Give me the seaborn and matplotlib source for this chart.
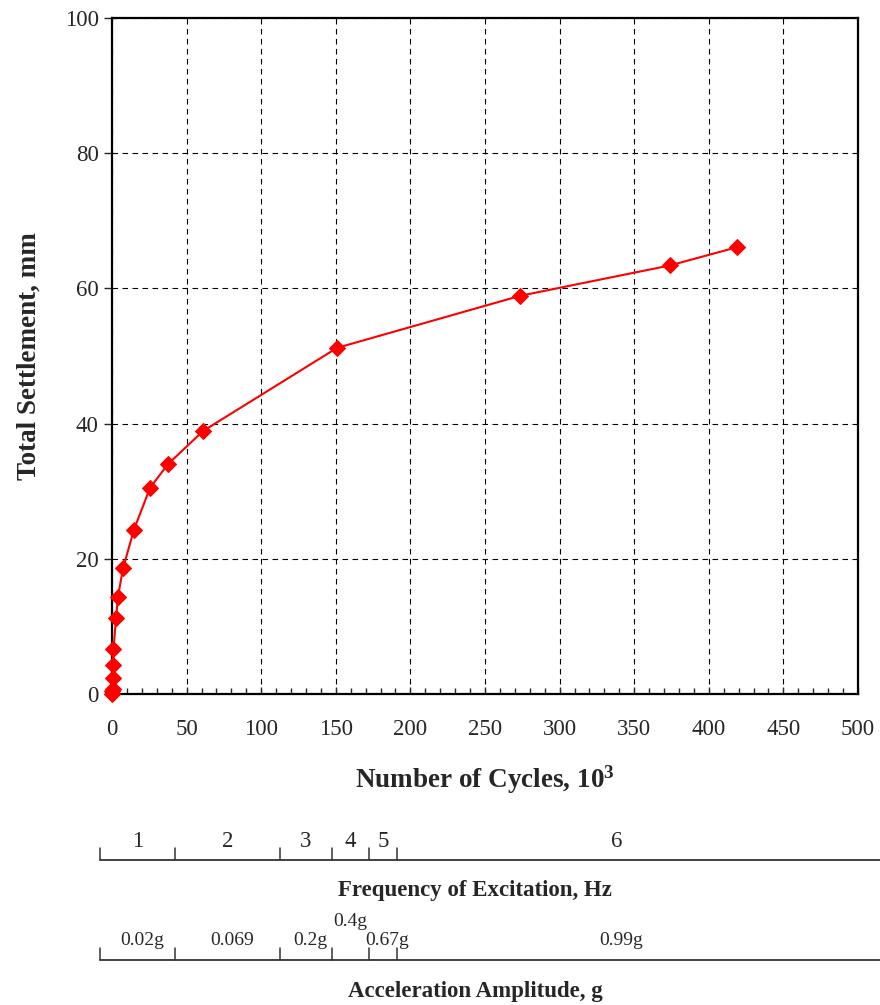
import matplotlib
matplotlib.use("Agg")
import matplotlib.pyplot as plt
from matplotlib.ticker import MultipleLocator
import pandas as pd
import seaborn as sns

# settlement vs cycles (thousands of cycles, mm)
cycles = [0, 0.2, 0.4, 0.6, 0.8, 1.0, 2.7, 4.0, 7.4, 14.7, 25.5, 37.5, 61.0, 150.8, 273.5, 374.0, 419.0]
settlement = [0, 0.4, 0.8, 2.3, 4.3, 6.6, 11.2, 14.4, 18.6, 24.3, 30.5, 34.0, 38.9, 51.2, 58.9, 63.4, 66.1]

# loading stages, boundaries in thousand cycles
stage_edges = [-8.0, 42.2, 112.6, 147.5, 172.3, 191.0, 486.0]
freq_labels = ["1", "2", "3", "4", "5", "6"]
accel_labels = ["0.02g", "0.069", "0.2g", "0.4g", "0.67g", "0.99g"]

df = pd.DataFrame({"cycles": cycles, "settlement": settlement})

sns.set_style("white")
plt.rcParams["font.family"] = ["Liberation Serif", "DejaVu Serif"]
plt.rcParams["mathtext.fontset"] = "custom"
plt.rcParams["mathtext.rm"] = "Liberation Serif"
plt.rcParams["mathtext.bf"] = "Liberation Serif:bold"

fig = plt.figure(figsize=(8.8, 10.05), dpi=100)
W, H = 880, 1005
ax = fig.add_axes([112 / W, 1 - 694 / H, (858 - 112) / W, (694 - 18) / H])

sns.lineplot(data=df, x="cycles", y="settlement", ax=ax, color="#ff0000",
             marker="D", markersize=8, markeredgecolor="#ff0000",
             linewidth=1.5, estimator=None, sort=False, clip_on=False, zorder=5)

ax.set_xlim(0, 500)
ax.set_ylim(0, 100)
ax.xaxis.set_major_locator(MultipleLocator(50))
ax.xaxis.set_minor_locator(MultipleLocator(10))
ax.yaxis.set_major_locator(MultipleLocator(20))
ax.grid(True, which="major", color="black", linestyle=(0, (5, 4)), linewidth=0.8)
for s in ax.spines.values():
    s.set_color("black")
    s.set_linewidth(1.6)
ax.tick_params(axis="y", which="major", direction="out", length=6, width=1, labelsize=16.5, left=True)
ax.tick_params(axis="x", which="major", direction="in", length=5, width=1, labelsize=16.5, bottom=True, pad=18)
ax.tick_params(axis="x", which="minor", direction="in", length=4, width=1, bottom=True)

ax.set_xlabel(r"Number of Cycles, $\mathbf{10^3}$", fontsize=19.5, fontweight="bold", labelpad=17)
ax.set_ylabel("Total Settlement, mm", fontsize=19.5, fontweight="bold", labelpad=17)

# stage scales below the chart, x in the same units as the main axis
sx = fig.add_axes([0, 0, 1, 1])
sx.set_xlim((0 - 112) / 1.492, (W - 112) / 1.492)
sx.set_ylim(H, 0)
sx.axis("off")

def stage_bar(y, labels, label_y, raised=None, fs=16.5, dx=0.0):
    sx.plot([stage_edges[0], sx.get_xlim()[1]], [y, y], color="#333333", lw=1.3)
    for e in stage_edges[:-1]:
        sx.plot([e, e], [y, y - 12], color="#333333", lw=1.1)
    for i, lab in enumerate(labels):
        cx = (stage_edges[i] + stage_edges[i + 1]) / 2 + dx
        if raised == i:
            sx.text(cx - 3, label_y - 19, lab, ha="center", va="center", fontsize=fs)
        else:
            sx.text(cx, label_y, lab, ha="center", va="center", fontsize=fs)

title_x = (stage_edges[0] + sx.get_xlim()[1]) / 2 - 10
stage_bar(860, freq_labels, 841)
sx.text(title_x, 890, "Frequency of Excitation, Hz", ha="center", va="center",
        fontsize=16.5, fontweight="bold")
stage_bar(960, accel_labels, 940, raised=3, fs=14, dx=3)
sx.text(title_x, 991, "Acceleration Amplitude, g", ha="center", va="center",
        fontsize=16.5, fontweight="bold")

plt.savefig("out.png", dpi=100)
